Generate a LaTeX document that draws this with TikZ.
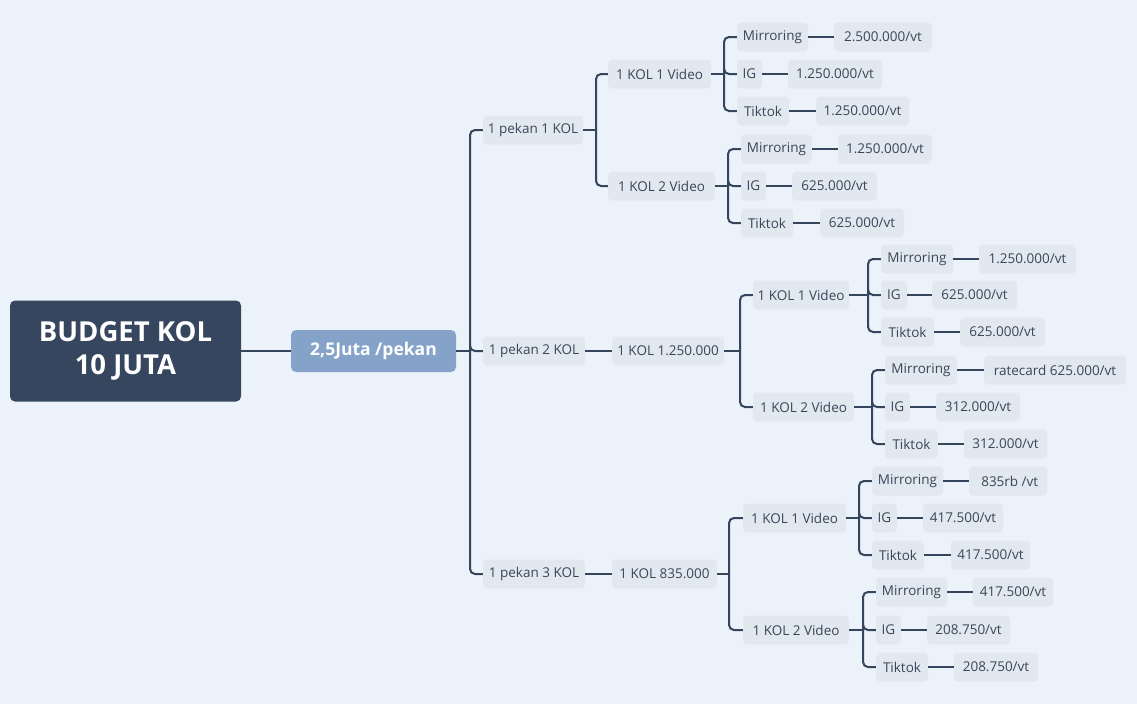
\documentclass[tikz,border=0pt]{standalone}
\usepackage{fontspec}
\setmainfont{Open Sans}
\definecolor{bg}{HTML}{EBF2FA}
\definecolor{nodefill}{HTML}{E1E8F0}
\definecolor{txt}{HTML}{3A4759}
\definecolor{lineC}{HTML}{34455C}
\definecolor{rootC}{HTML}{35465E}
\definecolor{lvlC}{HTML}{85A2C9}
\tikzset{
  conn/.style={draw=lineC, line width=2pt, rounded corners=5pt},
  topic/.style={fill=nodefill, rounded corners=4pt, text=txt, inner sep=0pt,
    minimum height=29pt, font=\fontsize{13.5}{15}\selectfont, anchor=center},
  rootbox/.style={fill=rootC, rounded corners=5pt, text=white, inner sep=0pt,
    minimum height=101pt, minimum width=231pt, align=center,
    font=\fontsize{27.5}{33}\selectfont\bfseries},
  lvlbox/.style={fill=lvlC, rounded corners=5pt, text=white, inner sep=0pt,
    minimum height=42pt, minimum width=165pt,
    font=\fontsize{17.5}{20}\selectfont\bfseries},
}
\newcommand{\tp}[5]{\node[topic, minimum width={#3-#2}] (#1) at ({(#2+#3)/2},#4) {#5};}
\begin{document}
\begin{tikzpicture}[x=1pt,y=-1pt]
\fill[bg] (0,0) rectangle (1137,704);
\useasboundingbox (0,0) rectangle (1137,704);
% root and level 1
\node[rootbox] (r) at (125.5,351) {BUDGET KOL\\10 JUTA};
\node[lvlbox] (l1) at (373.5,351) {2,5Juta /pekan};
% bracket coordinates
\coordinate (kT) at (470,0);
\coordinate (k1) at (596,0);
\coordinate (ka1) at (724,0);
\coordinate (ka2) at (728,0);
\coordinate (k2) at (740,0);
\coordinate (kb1) at (868,0);
\coordinate (kb2) at (872,0);
\coordinate (k3) at (729,0);
\coordinate (kc1) at (859,0);
\coordinate (kc2) at (863,0);
% level 2
\tp{p1}{483}{583}{130}{1 pekan 1 KOL}
\tp{p2}{483}{585}{351}{1 pekan 2 KOL}
\tp{p3}{483}{585}{574}{1 pekan 3 KOL}
% row 1
\tp{a1}{608}{711}{74}{1 KOL 1 Video}
\tp{a2}{608}{715}{186}{1 KOL 2 Video}
\tp{a1m}{737}{808}{37}{Mirroring}
\tp{a1mv}{834}{932}{37}{2.500.000/vt}
\tp{a1i}{737}{762}{74}{IG}
\tp{a1iv}{788}{882}{74}{1.250.000/vt}
\tp{a1t}{737}{789}{111}{Tiktok}
\tp{a1tv}{816}{909}{111}{1.250.000/vt}
\tp{a2m}{741}{812}{149}{Mirroring}
\tp{a2mv}{838}{932}{149}{1.250.000/vt}
\tp{a2i}{741}{766}{186}{IG}
\tp{a2iv}{792}{877}{186}{625.000/vt}
\tp{a2t}{741}{793}{223}{Tiktok}
\tp{a2tv}{820}{904}{223}{625.000/vt}
% row 2
\tp{q}{612}{724}{351}{1 KOL 1.250.000}
\tp{b1}{753}{849}{295}{1 KOL 1 Video}
\tp{b2}{753}{854}{407}{1 KOL 2 Video}
\tp{b1m}{881}{953}{259}{Mirroring}
\tp{b1mv}{979}{1076}{259}{1.250.000/vt}
\tp{b1i}{881}{907}{295}{IG}
\tp{b1iv}{932}{1017}{295}{625.000/vt}
\tp{b1t}{881}{934}{332}{Tiktok}
\tp{b1tv}{960}{1045}{332}{625.000/vt}
\tp{b2m}{885}{957}{370}{Mirroring}
\tp{b2mv}{984}{1126}{370}{ratecard 625.000/vt}
\tp{b2i}{885}{910}{407}{IG}
\tp{b2iv}{936}{1020}{407}{312.000/vt}
\tp{b2t}{885}{938}{444}{Tiktok}
\tp{b2tv}{964}{1047}{444}{312.000/vt}
% row 3
\tp{s}{612}{717}{574}{1 KOL 835.000}
\tp{c1}{743}{846}{518}{1 KOL 1 Video}
\tp{c2}{743}{849}{630}{1 KOL 2 Video}
\tp{c1m}{872}{943}{481}{Mirroring}
\tp{c1mv}{969}{1047}{481}{\ 835rb /vt}
\tp{c1i}{872}{897}{518}{IG}
\tp{c1iv}{923}{1003}{518}{417.500/vt}
\tp{c1t}{872}{924}{555}{Tiktok}
\tp{c1tv}{951}{1030}{555}{417.500/vt}
\tp{c2m}{876}{947}{592}{Mirroring}
\tp{c2mv}{973}{1053}{592}{417.500/vt}
\tp{c2i}{876}{901}{630}{IG}
\tp{c2iv}{927}{1010}{630}{208.750/vt}
\tp{c2t}{876}{928}{667}{Tiktok}
\tp{c2tv}{954}{1038}{667}{208.750/vt}
% connectors
\draw[conn, line width=2.5pt] (r.east) -- (l1.west);
\draw[conn] (l1.east) -- (l1.east -| kT);
\foreach \c in {p1,p2,p3} \draw[conn] (l1.east -| kT) |- (\c.west);
% row 1
\draw[conn] (p1.east) -- (p1.east -| k1);
\foreach \c in {a1,a2} \draw[conn] (p1.east -| k1) |- (\c.west);
\draw[conn] (a1.east) -- (a1.east -| ka1);
\foreach \c in {a1m,a1i,a1t} \draw[conn] (a1.east -| ka1) |- (\c.west);
\draw[conn] (a2.east) -- (a2.east -| ka2);
\foreach \c in {a2m,a2i,a2t} \draw[conn] (a2.east -| ka2) |- (\c.west);
% row 2
\draw[conn] (p2.east) -- (q.west);
\draw[conn] (q.east) -- (q.east -| k2);
\foreach \c in {b1,b2} \draw[conn] (q.east -| k2) |- (\c.west);
\draw[conn] (b1.east) -- (b1.east -| kb1);
\foreach \c in {b1m,b1i,b1t} \draw[conn] (b1.east -| kb1) |- (\c.west);
\draw[conn] (b2.east) -- (b2.east -| kb2);
\foreach \c in {b2m,b2i,b2t} \draw[conn] (b2.east -| kb2) |- (\c.west);
% row 3
\draw[conn] (p3.east) -- (s.west);
\draw[conn] (s.east) -- (s.east -| k3);
\foreach \c in {c1,c2} \draw[conn] (s.east -| k3) |- (\c.west);
\draw[conn] (c1.east) -- (c1.east -| kc1);
\foreach \c in {c1m,c1i,c1t} \draw[conn] (c1.east -| kc1) |- (\c.west);
\draw[conn] (c2.east) -- (c2.east -| kc2);
\foreach \c in {c2m,c2i,c2t} \draw[conn] (c2.east -| kc2) |- (\c.west);
% leaf values
\foreach \a/\b in {a1m/a1mv,a1i/a1iv,a1t/a1tv,a2m/a2mv,a2i/a2iv,a2t/a2tv,
  b1m/b1mv,b1i/b1iv,b1t/b1tv,b2m/b2mv,b2i/b2iv,b2t/b2tv,
  c1m/c1mv,c1i/c1iv,c1t/c1tv,c2m/c2mv,c2i/c2iv,c2t/c2tv}
  \draw[conn] (\a.east) -- (\b.west);
\end{tikzpicture}
\end{document}
